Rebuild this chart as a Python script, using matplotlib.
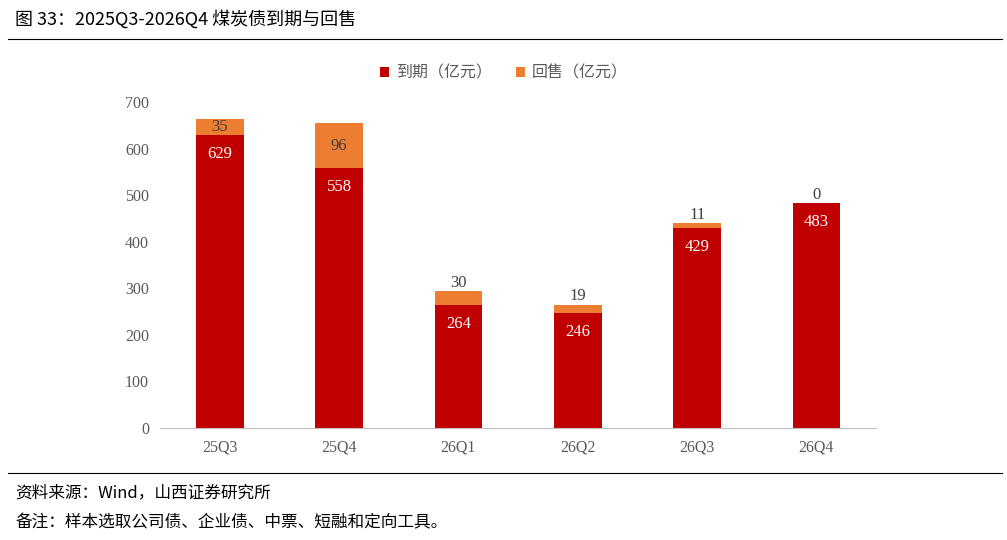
import matplotlib
matplotlib.use("Agg")
from matplotlib import pyplot as plt

plt.rcParams['font.family'] = ['Noto Sans CJK SC', 'DejaVu Sans']

quarters = ["25Q3", "25Q4", "26Q1", "26Q2", "26Q3", "26Q4"]
due = [629, 558, 264, 246, 429, 483]
putback = [35, 96, 30, 19, 11, 0]

red = "#C00000"
orange = "#ED7D31"
serif = ["Liberation Serif", "DejaVu Serif"]

fig = plt.figure(figsize=(10.07, 5.4), dpi=100)
ax = fig.add_axes([0.159, 0.2074, 0.711, 0.6037])

x = range(len(quarters))
ax.bar(x, due, width=0.4, color=red, label="到期（亿元）")
ax.bar(x, putback, width=0.4, bottom=due, color=orange, label="回售（亿元）")

for i in x:
    ax.text(i, due[i] - 40, str(due[i]), ha="center", va="center", color="white", fontsize=12,
            family=serif)
    if putback[i] >= 35:
        y = due[i] + putback[i] / 2
    else:
        y = due[i] + putback[i] + 18
    ax.text(i, y, str(putback[i]), ha="center", va="center", color="#404040", fontsize=12,
            family=serif)

ax.set_xlim(-0.5, 5.5)
ax.set_ylim(0, 700)
ax.set_yticks(range(0, 701, 100))
ax.set_xticks(list(x))
ax.set_xticklabels(quarters)
for lab in ax.get_xticklabels() + ax.get_yticklabels():
    lab.set_family(serif)
    lab.set_fontsize(11.5)
    lab.set_color("#595959")
for s in ["top", "right", "left"]:
    ax.spines[s].set_visible(False)
ax.spines["bottom"].set_color("#BFBFBF")
ax.tick_params(length=0, pad=8)

ax.legend(loc="upper center", bbox_to_anchor=(0.48, 1.16), ncol=2, frameon=False,
          fontsize=11.5, handlelength=0.6, handleheight=0.6, labelcolor="#595959",
          columnspacing=1.5, handletextpad=0.4)

fig.text(0.015, 0.965, "图 33：2025Q3-2026Q4 煤炭债到期与回售", fontsize=13, va="center")
fig.add_artist(plt.Line2D([0.008, 0.995], [0.928, 0.928], color="black", lw=0.8))
fig.add_artist(plt.Line2D([0.008, 0.995], [0.124, 0.124], color="black", lw=0.8))
fig.text(0.015, 0.087, "资料来源：Wind，山西证券研究所", fontsize=12, va="center")
fig.text(0.015, 0.031, "备注：样本选取公司债、企业债、中票、短融和定向工具。", fontsize=12, va="center")

fig.savefig("out.png", dpi=100)
